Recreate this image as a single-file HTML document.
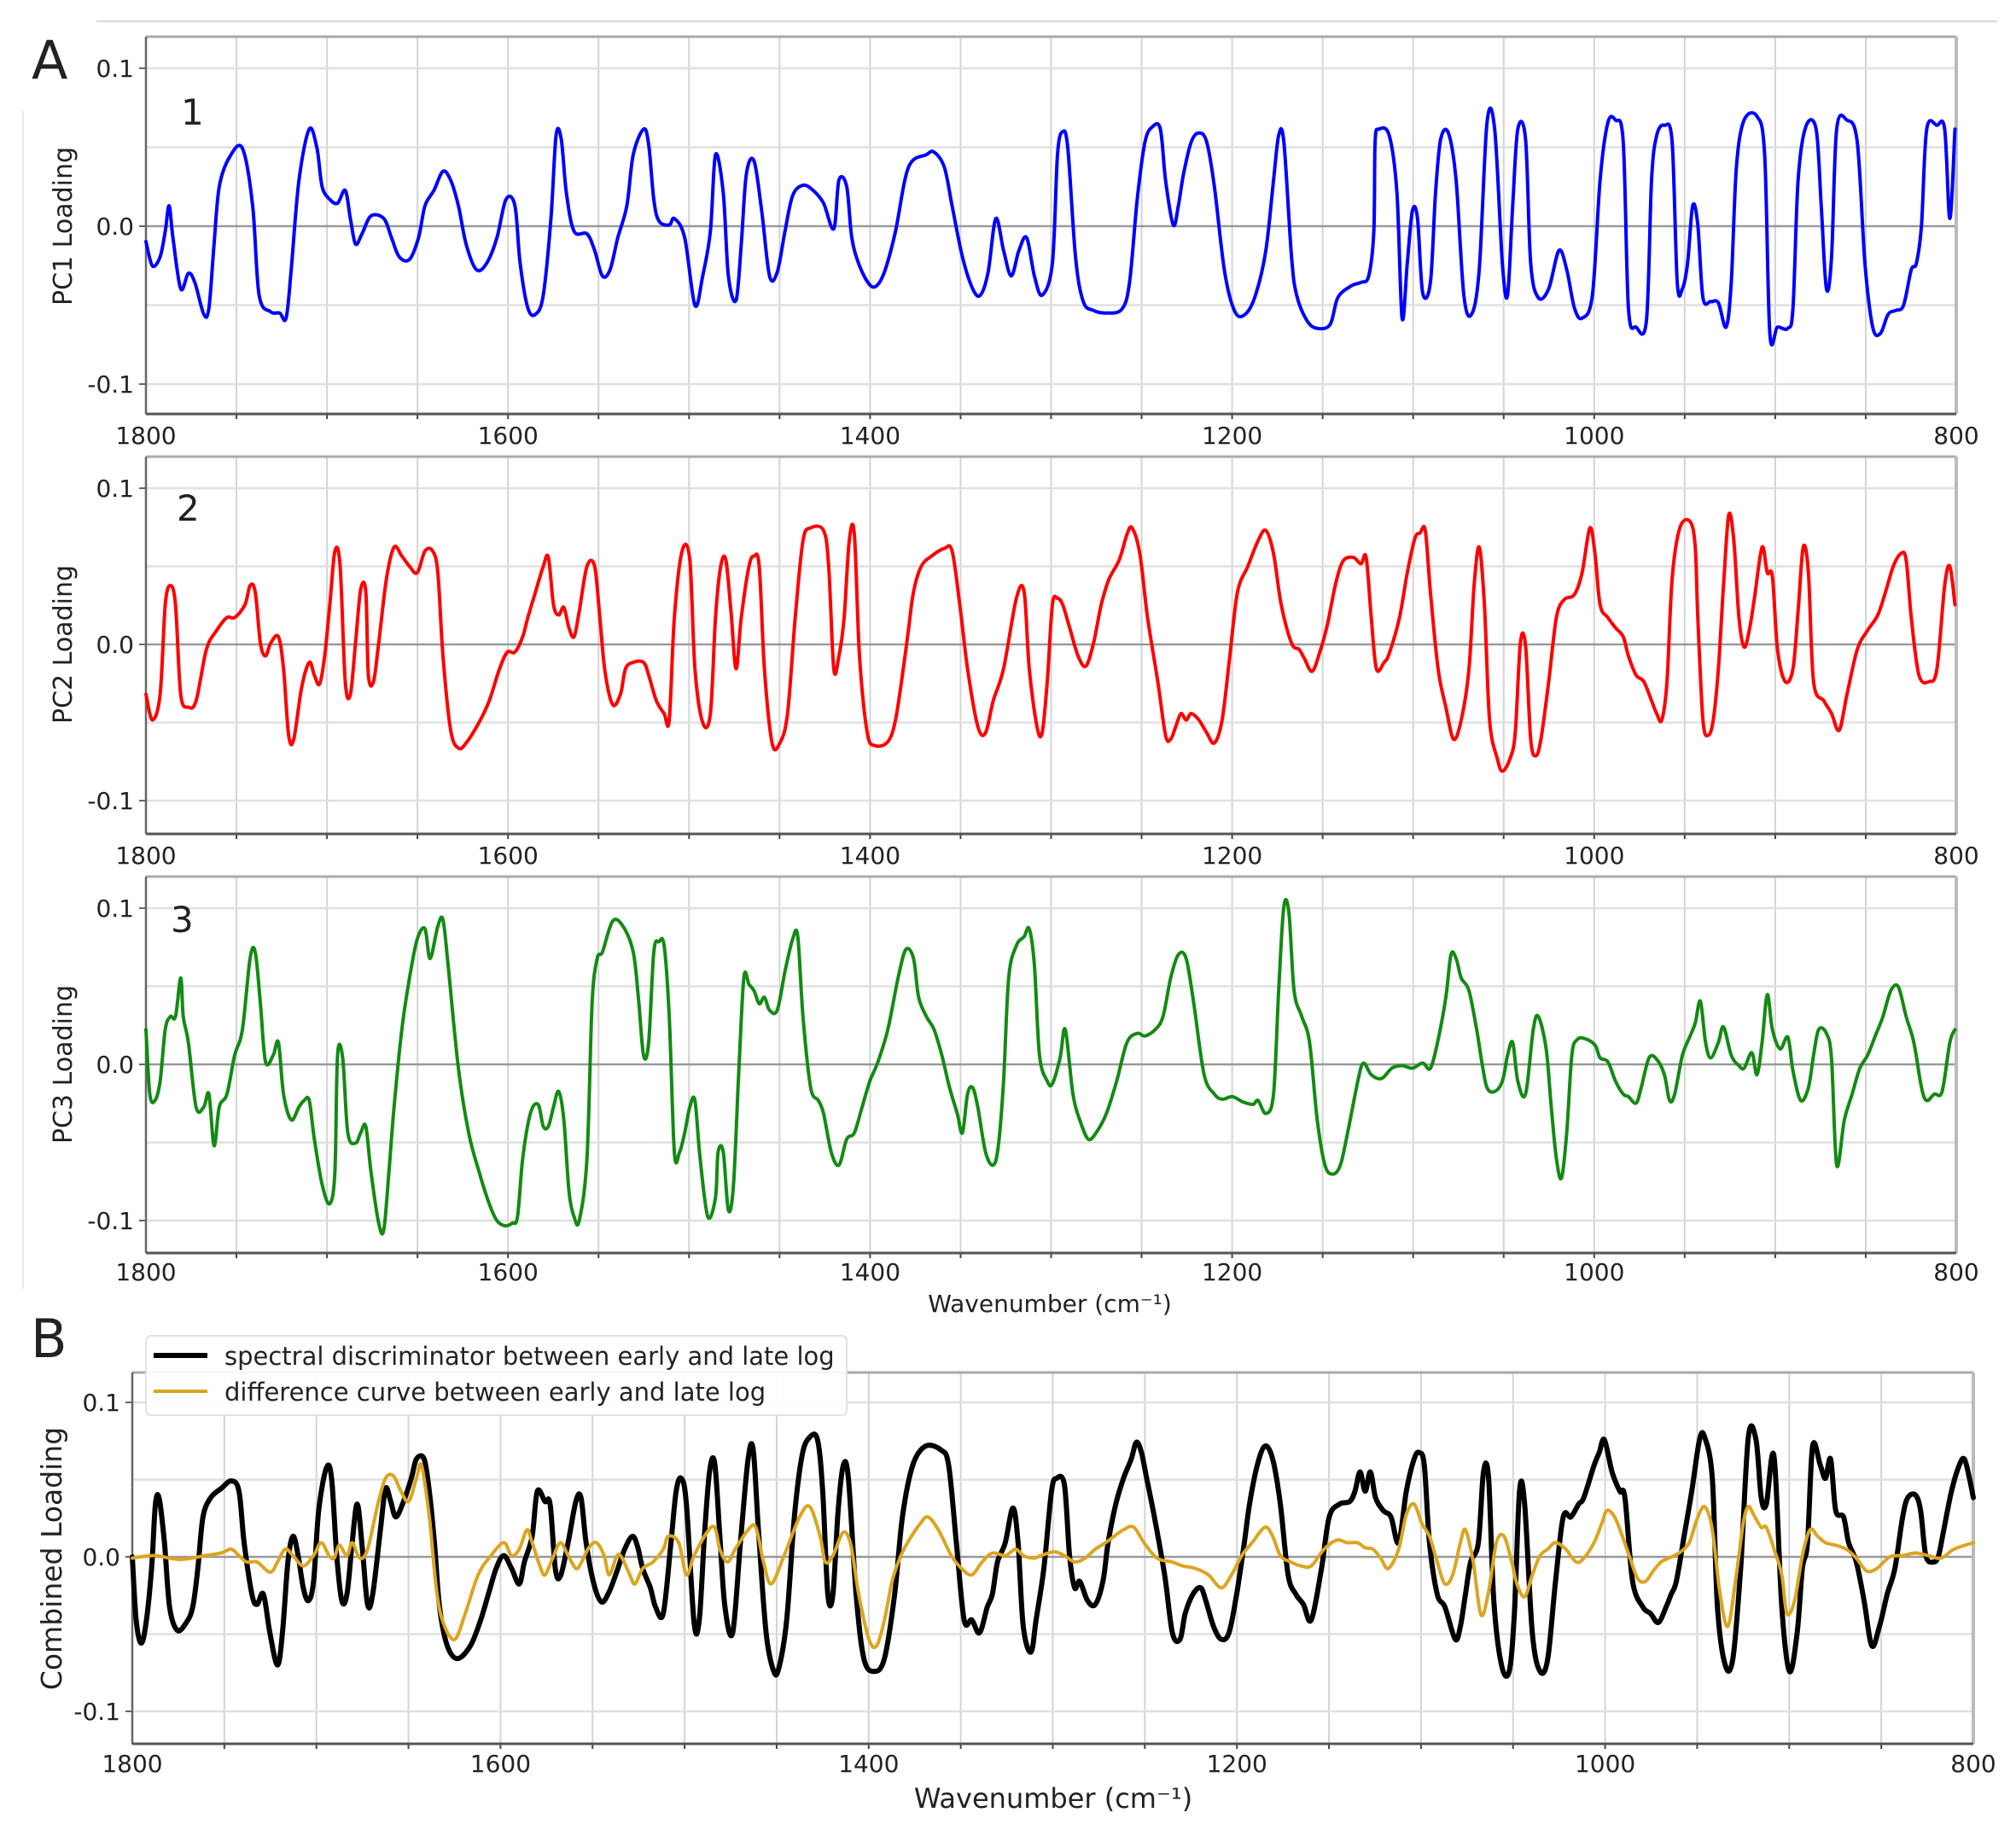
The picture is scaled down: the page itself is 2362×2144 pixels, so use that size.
<!DOCTYPE html>
<html><head><meta charset="utf-8"><style>
html,body{margin:0;padding:0;background:#fff;}
svg{display:block;}
text{font-family:"DejaVu Sans","Liberation Sans",sans-serif;fill:#222;}
</style></head><body>
<svg id="s" width="2362" height="2144" viewBox="0 0 2362 2144" xmlns="http://www.w3.org/2000/svg">
<rect width="2362" height="2144" fill="#fff"/>
<line x1="113" y1="25" x2="2340" y2="25" stroke="#ccc" stroke-width="1.5"/>
<line x1="27" y1="130" x2="27" y2="1510" stroke="#e4e4e4" stroke-width="1.5"/>
<g id="g"></g>
<text x="37" y="92" font-size="62" font-family="Liberation Sans">A</text>
<text x="36" y="1590" font-size="62" font-family="Liberation Sans">B</text>
<text x="212" y="146" font-size="42" font-family="Liberation Sans">1</text>
<text x="207" y="610" font-size="42" font-family="Liberation Sans">2</text>
<text x="200" y="1092" font-size="42" font-family="Liberation Sans">3</text>
<text x="1230" y="1537" font-size="28" text-anchor="middle">Wavenumber (cm⁻¹)</text>
<text x="1234" y="2118" font-size="32" text-anchor="middle">Wavenumber (cm⁻¹)</text>
<text transform="translate(84,265) rotate(-90)" font-size="30" text-anchor="middle">PC1 Loading</text>
<text transform="translate(84,755) rotate(-90)" font-size="30" text-anchor="middle">PC2 Loading</text>
<text transform="translate(84,1247) rotate(-90)" font-size="30" text-anchor="middle">PC3 Loading</text>
<text transform="translate(72,1826) rotate(-90)" font-size="33" text-anchor="middle">Combined Loading</text>
</svg>
<script>
var NS="http://www.w3.org/2000/svg",G=document.getElementById('g');
function el(t,a){var e=document.createElementNS(NS,t);for(var k in a)e.setAttribute(k,a[k]);G.appendChild(e);return e;}
function txt(x,y,s,fs,anc){var e=el('text',{x:x,y:y,'font-size':fs,'text-anchor':anc});e.textContent=s;}
function panel(L,R,T,B,y0,u,fsT,ylx,xly){
  for(var w=1750;w>800;w-=50){var x=L+(1800-w)*(R-L)/1000;el('line',{x1:x,y1:T,x2:x,y2:B,stroke:'#d4d4d4','stroke-width':2});el('line',{x1:x,y1:B,x2:x,y2:B+6,stroke:'#444','stroke-width':2});}
  [-0.1,-0.05,0.05,0.1].forEach(function(v){var y=y0-v*u;el('line',{x1:L,y1:y,x2:R,y2:y,stroke:'#e0e0e0','stroke-width':2.5});});
  el('line',{x1:L,y1:y0,x2:R,y2:y0,stroke:'#999','stroke-width':2.5});
  el('line',{x1:L,y1:T,x2:R,y2:T,stroke:'#aaa','stroke-width':3});
  el('line',{x1:R,y1:T,x2:R,y2:B,stroke:'#bbb','stroke-width':4});
  el('line',{x1:L,y1:T,x2:L,y2:B,stroke:'#666','stroke-width':2.5});
  el('line',{x1:L,y1:B,x2:R,y2:B,stroke:'#555','stroke-width':3});
  [['0.1',0.1],['0.0',0],['-0.1',-0.1]].forEach(function(p){var y=y0-p[1]*u;txt(ylx,y+10,p[0],fsT,'end');el('line',{x1:L-8,y1:y,x2:L,y2:y,stroke:'#666','stroke-width':2});});
  [1800,1600,1400,1200,1000,800].forEach(function(w){var x=L+(1800-w)*(R-L)/1000;txt(x,xly,String(w),fsT,'middle');});
}
function path(pts,fx,fy,col,sw){
  var p=pts.map(function(q){return [fx(q[0]),fy(q[1])];});
  var d='M'+p[0][0].toFixed(1)+','+p[0][1].toFixed(1);
  for(var i=0;i<p.length-1;i++){var p0=p[i-1]||p[i],p1=p[i],p2=p[i+1],p3=p[i+2]||p2;
    var c1x=p1[0]+(p2[0]-p0[0])/6,c1y=p1[1]+(p2[1]-p0[1])/6,c2x=p2[0]-(p3[0]-p1[0])/6,c2y=p2[1]-(p3[1]-p1[1])/6;
    d+='C'+c1x.toFixed(1)+','+c1y.toFixed(1)+' '+c2x.toFixed(1)+','+c2y.toFixed(1)+' '+p2[0].toFixed(1)+','+p2[1].toFixed(1);}
  el('path',{d:d,fill:'none',stroke:col,'stroke-width':sw,'stroke-linejoin':'round','stroke-linecap':'round'});
}
function P(s){var a=s.split(/[(),\s]+/).filter(Boolean).map(Number),r=[];for(var i=0;i<a.length;i+=2)r.push([a[i],a[i+1]]);return r;}
var pc1=P("(113,188),(118,207),(124,200),(128,180),(131,160),(134,185),(140,225),(146,213),(151,220),(158,245),(162,240),(166,190),(170,145),(178,122),(188,115),(196,160),(201,230),(210,243),(217,244),(222,248),(226,210),(232,140),(240,100),(246,115),(250,145),(256,155),(262,158),(268,148),(272,170),(276,190),(281,182),(288,168),(298,170),(304,185),(310,200),(318,202),(325,185),(330,160),(337,148),(344,133),(350,140),(356,160),(362,190),(370,210),(378,205),(386,185),(393,155),(400,160),(404,205),(410,240),(416,245),(422,230),(428,170),(432,105),(436,108),(440,150),(446,180),(456,182),(462,195),(468,215),(474,210),(480,185),(487,160),(492,120),(500,100),(504,112),(508,155),(512,172),(520,175),(524,170),(532,185),(540,238),(546,215),(552,180),(556,120),(562,150),(566,215),(572,234),(576,190),(580,135),(586,125),(592,165),(598,215),(604,212),(610,180),(616,152),(624,144),(632,148),(640,158),(648,178),(652,140),(658,145),(662,185),(668,207),(676,222),(682,222),(688,210),(696,180),(706,130),(720,120),(726,118),(734,130),(740,160),(748,200),(756,225),(762,230),(768,212),(774,170),(780,195),(786,215),(792,195),(798,185),(804,215),(810,230),(818,205),(822,120),(826,102),(830,115),(836,200),(842,235),(850,242),(860,244),(872,241),(878,220),(884,155),(890,110),(896,98),(902,100),(906,140),(912,175),(916,160),(920,135),(926,110),(932,103),(938,110),(944,145),(952,212),(960,243),(968,245),(976,230),(984,195),(990,140),(994,105),(998,110),(1004,200),(1008,230),(1016,250),(1024,256),(1034,253),(1040,232),(1050,223),(1058,220),(1064,215),(1068,180),(1069,110),(1072,100),(1080,105),(1086,150),(1090,248),(1094,205),(1098,164),(1102,170),(1106,228),(1112,220),(1116,150),(1120,108),(1126,103),(1132,140),(1138,230),(1144,245),(1150,210),(1156,95),(1162,100),(1168,205),(1172,230),(1176,160),(1180,100),(1186,108),(1190,205),(1196,232),(1204,225),(1212,195),(1218,210),(1224,240),(1230,248),(1238,230),(1244,140),(1250,95),(1256,93),(1262,110),(1266,240),(1272,255),(1280,250),(1284,140),(1288,105),(1294,97),(1300,110),(1304,220),(1308,225),(1312,205),(1316,160),(1320,175),(1324,232),(1330,235),(1336,236),(1342,255),(1346,220),(1350,130),(1356,93),(1366,90),(1372,120),(1376,260),(1382,255),(1390,256),(1394,240),(1398,140),(1404,98),(1412,100),(1416,160),(1420,225),(1424,200),(1428,100),(1436,93),(1444,110),(1450,205),(1456,255),(1462,260),(1468,245),(1474,242),(1480,238),(1486,210),(1490,205),(1494,175),(1498,100),(1506,97),(1512,100),(1516,170),(1520,100)");
var pc2=P("(113,540),(118,560),(124,540),(128,470),(132,455),(136,470),(140,540),(146,550),(152,545),(160,505),(168,490),(176,480),(182,480),(190,470),(194,455),(198,460),(202,500),(206,510),(210,500),(216,495),(220,520),(224,572),(228,575),(234,535),(240,515),(244,525),(248,532),(252,510),(256,470),(260,428),(264,440),(268,530),(272,540),(276,500),(280,458),(284,460),(286,525),(290,530),(294,500),(300,450),(306,425),(312,432),(318,440),(324,445),(330,428),(336,428),(340,445),(344,510),(350,568),(356,582),(362,578),(372,562),(380,545),(388,520),(394,507),(400,507),(406,495),(410,480),(416,460),(422,440),(426,433),(430,470),(434,478),(438,472),(442,488),(446,495),(450,475),(456,440),(462,440),(466,480),(470,522),(476,548),(482,540),(486,520),(492,515),(500,515),(504,525),(510,545),(516,555),(520,560),(524,480),(530,428),(536,435),(540,520),(546,562),(552,555),(556,480),(560,440),(564,435),(568,475),(572,520),(576,480),(582,440),(586,432),(590,440),(594,520),(600,578),(606,578),(612,555),(618,480),(624,420),(630,410),(640,412),(644,440),(648,520),(652,510),(656,480),(660,420),(664,415),(668,510),(674,570),(680,580),(690,577),(696,560),(702,520),(706,490),(710,460),(716,440),(724,432),(734,426),(740,428),(746,470),(752,520),(760,565),(766,570),(772,545),(780,520),(790,465),(796,460),(800,520),(806,565),(810,570),(814,530),(818,470),(822,465),(826,470),(832,490),(838,510),(844,518),(850,500),(856,470),(862,450),(870,435),(876,415),(880,410),(886,430),(892,480),(900,530),(906,572),(910,575),(914,565),(918,555),(922,560),(926,555),(932,560),(938,570),(944,578),(950,560),(956,510),(962,460),(970,440),(978,420),(984,412),(990,430),(996,470),(1004,500),(1010,505),(1014,512),(1020,522),(1026,507),(1032,485),(1038,455),(1044,436),(1052,433),(1058,438),(1062,433),(1066,480),(1070,520),(1076,515),(1080,508),(1088,480),(1094,445),(1100,418),(1104,414),(1108,412),(1112,460),(1118,520),(1124,550),(1130,575),(1136,560),(1142,520),(1146,455),(1150,425),(1154,470),(1158,560),(1164,590),(1168,600),(1174,590),(1178,570),(1182,500),(1186,502),(1190,575),(1194,588),(1198,575),(1204,530),(1210,480),(1216,466),(1224,462),(1230,445),(1236,410),(1240,430),(1244,470),(1250,480),(1256,488),(1262,495),(1266,510),(1272,525),(1278,530),(1284,545),(1288,555),(1292,560),(1296,530),(1300,450),(1306,410),(1314,405),(1318,425),(1320,480),(1324,560),(1328,572),(1332,560),(1336,520),(1340,455),(1344,400),(1348,420),(1352,480),(1356,503),(1360,490),(1364,465),(1370,425),(1374,445),(1378,448),(1382,505),(1388,530),(1394,520),(1398,475),(1402,425),(1406,445),(1410,530),(1418,545),(1424,555),(1430,568),(1436,540),(1444,505),(1452,490),(1460,478),(1466,460),(1472,440),(1478,430),(1482,435),(1486,480),(1492,525),(1500,530),(1506,520),(1512,455),(1516,440),(1520,470)");
var pc3=P("(113,800),(116,850),(120,855),(124,840),(128,800),(132,790),(136,790),(140,760),(142,790),(146,810),(152,860),(158,860),(162,850),(166,890),(170,860),(176,850),(182,820),(188,800),(194,745),(198,740),(202,780),(206,825),(212,820),(216,810),(220,850),(226,870),(232,860),(236,855),(240,855),(244,885),(250,920),(256,935),(260,910),(262,820),(266,822),(270,880),(276,888),(280,880),(284,875),(288,910),(294,950),(298,955),(302,910),(306,860),(312,800),(318,760),(324,730),(330,722),(334,745),(340,720),(344,715),(348,750),(356,830),(364,880),(372,910),(380,935),(386,948),(392,952),(398,950),(402,945),(406,900),(412,865),(418,858),(422,875),(426,875),(430,860),(434,848),(438,870),(442,925),(446,945),(450,948),(456,900),(460,780),(464,745),(468,740),(476,716),(484,720),(492,740),(496,775),(500,820),(504,810),(508,740),(512,732),(516,735),(520,790),(524,895),(528,895),(532,880),(536,860),(540,855),(544,900),(550,945),(556,930),(558,895),(562,895),(566,940),(570,920),(574,835),(578,760),(582,765),(586,770),(590,780),(594,775),(598,785),(604,785),(610,755),(616,730),(620,728),(624,790),(630,845),(636,855),(640,865),(646,895),(652,905),(658,885),(664,880),(670,860),(676,840),(682,826),(690,800),(698,760),(704,738),(710,745),(714,775),(720,790),(726,800),(732,820),(738,845),(744,865),(748,880),(752,850),(756,845),(760,860),(766,895),(772,905),(776,890),(780,840),(784,760),(790,735),(796,728),(800,722),(804,750),(808,820),(814,840),(818,842),(824,822),(828,800),(834,850),(840,872),(846,885),(852,880),(860,865),(868,840),(876,810),(884,803),(890,805),(898,800),(904,790),(910,760),(916,742),(922,745),(928,780),(936,835),(944,850),(950,854),(958,852),(966,856),(974,858),(978,855),(984,865),(990,850),(994,770),(998,705),(1002,710),(1006,770),(1012,790),(1018,810),(1024,870),(1030,905),(1036,912),(1042,905),(1048,878),(1056,838),(1060,826),(1066,835),(1074,838),(1082,830),(1090,828),(1098,830),(1106,826),(1112,830),(1118,808),(1124,775),(1128,742),(1132,745),(1136,760),(1142,770),(1148,800),(1152,825),(1156,845),(1162,848),(1168,840),(1172,820),(1176,810),(1180,840),(1186,850),(1192,800),(1196,790),(1202,815),(1206,860),(1210,900),(1214,915),(1218,880),(1222,820),(1226,808),(1232,807),(1240,812),(1244,822),(1250,825),(1256,840),(1262,850),(1266,852),(1272,857),(1276,845),(1282,822),(1288,823),(1294,835),(1298,855),(1302,850),(1308,820),(1314,805),(1318,795),(1322,778),(1326,810),(1330,822),(1336,810),(1340,798),(1346,820),(1352,828),(1356,830),(1362,818),(1366,835),(1370,810),(1374,773),(1378,800),(1384,815),(1390,806),(1394,832),(1400,855),(1406,845),(1410,820),(1414,800),(1420,803),(1424,823),(1428,905),(1434,870),(1440,850),(1446,830),(1452,820),(1458,805),(1464,790),(1470,770),(1476,767),(1482,790),(1488,810),(1494,845),(1498,855),(1504,850),(1510,848),(1516,810),(1520,800)");
var bk=P("(103,1211),(106,1260),(110,1278),(114,1260),(118,1220),(121,1170),(124,1166),(128,1200),(132,1250),(138,1268),(145,1262),(150,1250),(154,1220),(158,1180),(164,1165),(172,1158),(180,1152),(186,1160),(190,1200),(196,1240),(200,1248),(205,1240),(210,1270),(216,1295),(220,1268),(224,1215),(228,1195),(232,1210),(236,1235),(240,1245),(244,1230),(248,1175),(254,1142),(258,1150),(262,1210),(266,1245),(270,1240),(274,1200),(278,1170),(282,1205),(286,1248),(290,1240),(296,1190),(300,1158),(304,1168),(308,1180),(314,1168),(320,1150),(324,1135),(330,1135),(334,1160),(338,1200),(342,1250),(348,1280),(356,1290),(366,1280),(374,1260),(380,1240),(386,1220),(392,1210),(398,1220),(404,1232),(408,1215),(414,1195),(418,1160),(424,1168),(428,1170),(432,1220),(436,1226),(442,1200),(448,1168),(452,1165),(456,1200),(462,1232),(468,1246),(474,1238),(480,1222),(486,1205),(492,1195),(496,1203),(500,1220),(506,1235),(510,1250),(516,1255),(522,1200),(526,1160),(530,1150),(534,1170),(540,1262),(544,1260),(548,1195),(552,1145),(556,1138),(560,1195),(564,1250),(570,1270),(576,1200),(582,1135),(586,1128),(590,1190),(596,1270),(602,1300),(606,1297),(612,1260),(618,1180),(624,1132),(630,1118),(636,1120),(640,1160),(644,1240),(648,1240),(652,1175),(656,1140),(660,1150),(666,1240),(672,1290),(680,1300),(688,1290),(696,1240),(702,1180),(710,1140),(720,1125),(732,1128),(738,1140),(744,1200),(750,1260),(756,1260),(762,1270),(768,1250),(772,1240),(776,1215),(782,1200),(788,1173),(792,1200),(796,1265),(802,1285),(806,1260),(812,1220),(818,1160),(822,1150),(828,1155),(832,1210),(836,1235),(840,1230),(846,1245),(852,1248),(858,1230),(862,1200),(868,1170),(874,1150),(880,1135),(884,1122),(888,1130),(892,1150),(898,1180),(906,1225),(912,1270),(918,1275),(922,1255),(928,1240),(934,1235),(938,1245),(944,1265),(950,1275),(956,1270),(962,1240),(968,1200),(972,1170),(978,1140),(984,1125),(990,1135),(996,1170),(1002,1225),(1008,1240),(1014,1248),(1020,1260),(1028,1220),(1034,1180),(1042,1170),(1050,1168),(1054,1160),(1058,1145),(1062,1160),(1066,1145),(1070,1165),(1076,1175),(1082,1180),(1088,1200),(1094,1160),(1100,1135),(1104,1130),(1108,1140),(1112,1200),(1118,1240),(1124,1250),(1132,1275),(1136,1265),(1140,1240),(1144,1215),(1150,1200),(1154,1145),(1158,1150),(1162,1245),(1168,1295),(1174,1300),(1178,1255),(1182,1160),(1186,1170),(1192,1270),(1198,1300),(1204,1290),(1210,1230),(1216,1180),(1222,1180),(1228,1170),(1232,1165),(1240,1140),(1244,1130),(1248,1120),(1254,1145),(1260,1160),(1264,1165),(1270,1230),(1278,1250),(1284,1255),(1290,1262),(1296,1250),(1300,1240),(1304,1230),(1310,1195),(1316,1160),(1322,1120),(1326,1118),(1332,1150),(1336,1250),(1342,1295),(1348,1290),(1354,1220),(1360,1118),(1366,1120),(1370,1165),(1374,1170),(1380,1133),(1386,1250),(1392,1300),(1398,1270),(1402,1220),(1406,1200),(1410,1125),(1416,1140),(1420,1150),(1424,1135),(1428,1175),(1434,1180),(1438,1200),(1444,1215),(1450,1245),(1456,1280),(1462,1265),(1468,1240),(1474,1220),(1480,1180),(1484,1165),(1490,1163),(1494,1175),(1498,1210),(1504,1215),(1508,1210),(1512,1190),(1518,1160),(1524,1140),(1528,1135),(1532,1150),(1535,1165)");
var og=P("(103,1212),(120,1210),(140,1213),(160,1210),(172,1208),(180,1205),(186,1210),(192,1215),(200,1215),(208,1222),(212,1222),(216,1215),(222,1205),(228,1210),(236,1218),(244,1210),(250,1200),(256,1210),(260,1212),(264,1202),(270,1210),(274,1200),(280,1212),(286,1205),(294,1170),(300,1150),(306,1148),(312,1160),(318,1168),(324,1150),(328,1140),(334,1180),(340,1240),(346,1265),(354,1275),(362,1255),(372,1225),(382,1210),(392,1200),(398,1210),(404,1205),(410,1190),(414,1200),(420,1218),(424,1225),(430,1212),(436,1200),(442,1210),(448,1220),(452,1216),(458,1204),(464,1200),(470,1210),(474,1225),(480,1210),(484,1212),(490,1225),(494,1232),(500,1220),(508,1215),(516,1205),(520,1195),(528,1200),(534,1225),(540,1210),(550,1192),(556,1188),(560,1205),(566,1215),(572,1205),(582,1190),(588,1188),(594,1215),(600,1232),(610,1210),(622,1180),(630,1172),(638,1195),(642,1215),(648,1210),(656,1192),(662,1202),(668,1240),(676,1275),(682,1280),(688,1260),(694,1230),(700,1212),(706,1200),(716,1185),(722,1180),(730,1190),(740,1210),(748,1220),(756,1225),(764,1215),(772,1208),(782,1210),(790,1205),(796,1210),(804,1212),(810,1210),(820,1207),(828,1210),(836,1215),(844,1212),(852,1205),(860,1200),(874,1190),(882,1188),(890,1200),(900,1212),(912,1215),(920,1218),(930,1220),(940,1225),(950,1235),(958,1225),(966,1210),(974,1200),(984,1188),(990,1195),(996,1210),(1004,1215),(1012,1218),(1020,1218),(1030,1205),(1040,1198),(1048,1200),(1056,1200),(1062,1204),(1068,1205),(1074,1212),(1080,1220),(1088,1205),(1094,1178),(1100,1170),(1106,1185),(1112,1195),(1118,1215),(1124,1232),(1130,1225),(1136,1200),(1140,1190),(1146,1215),(1152,1256),(1158,1238),(1164,1200),(1170,1195),(1176,1215),(1180,1232),(1186,1242),(1192,1225),(1198,1210),(1204,1205),(1210,1200),(1218,1205),(1226,1215),(1232,1212),(1240,1200),(1246,1185),(1250,1175),(1256,1180),(1262,1195),(1268,1212),(1274,1228),(1280,1230),(1286,1222),(1292,1215),(1298,1212),(1306,1208),(1314,1200),(1320,1182),(1326,1172),(1332,1190),(1338,1240),(1344,1265),(1350,1230),(1356,1185),(1360,1172),(1364,1178),(1370,1188),(1374,1188),(1380,1205),(1386,1225),(1390,1255),(1396,1245),(1402,1210),(1408,1190),(1414,1195),(1420,1200),(1428,1202),(1436,1205),(1444,1212),(1452,1222),(1460,1220),(1470,1211),(1480,1210),(1490,1208),(1500,1210),(1510,1212),(1520,1205),(1535,1200)");
var L=171,R=2292;
function fxA(x){return L+(x-113)*(R-L)/1408;}
panel(L,R,43,485,265,1850,28,157,520);
panel(L,R,535,977,755,1830,28,157,1012);
panel(L,R,1027,1468,1247,1830,28,157,1500);
panel(155,2312,1608,2043,1824,1810,28,141,2076);
path(pc1,fxA,function(y){return 265+(y-176)*184/123;},'#0000ff',4);
path(pc2,fxA,function(y){return 755+(y-501)*183/122;},'#ff0000',4);
path(pc3,fxA,function(y){return 1247+(y-827)*183/121;},'#138a13',4);
var fxB=function(x){return 155+(x-103)*2157/1432;},fyB=function(y){return 1824+(y-1211)*181/120;};
path(bk,fxB,fyB,'#000',6);
path(og,fxB,fyB,'#dba520',4);
el('rect',{x:171,y:1565,width:821,height:93,rx:6,fill:'#fff','fill-opacity':0.9,stroke:'#e2e2e2','stroke-width':2});
el('line',{x1:180,y1:1588,x2:243,y2:1588,stroke:'#000','stroke-width':6});
el('line',{x1:180,y1:1630,x2:243,y2:1630,stroke:'#dba520','stroke-width':4});
txt(263,1599,'spectral discriminator between early and late log',29,'start');
txt(263,1641,'difference curve between early and late log',29,'start');
</script>
</body></html>
